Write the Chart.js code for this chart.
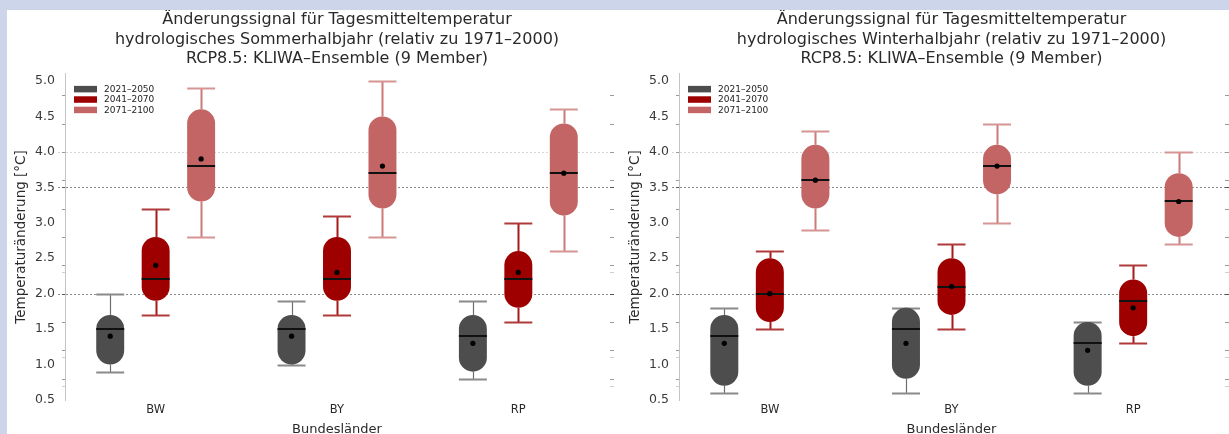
<!DOCTYPE html>
<html lang="de">
<head>
<meta charset="utf-8">
<title>Änderungssignal Tagesmitteltemperatur</title>
<script src="https://cdn.jsdelivr.net/npm/chart.js@4.4.1/dist/chart.umd.min.js"></script>
<style>
  html, body { margin: 0; padding: 0; width: 1229px; height: 434px; overflow: hidden; background: #fff; }
  #wrap { position: relative; width: 1229px; height: 434px; overflow: hidden; background: #fff; }
  .panel { position: absolute; top: 0; height: 444px; }
  #summer { left: 0; width: 614px; }
  #winter { left: 614px; width: 615px; }
  .frame { position: absolute; background: #cdd5ea; }
  #frameTop { left: 0; top: 0; width: 1229px; height: 10px; }
  #frameLeft { left: 0; top: 0; width: 7px; height: 434px; }
</style>
</head>
<body>
<div id="wrap">
  <canvas id="summer" class="panel" width="614" height="444"></canvas>
  <canvas id="winter" class="panel" width="615" height="444"></canvas>
  <div id="frameTop" class="frame"></div>
  <div id="frameLeft" class="frame"></div>
</div>
<script>
// Categories and periods
const categories = ['BW', 'BY', 'RP'];
const periods = ['2021–2050', '2041–2070', '2071–2100'];

// Axis values
const yTickValues = [0.5, 1.0, 1.5, 2.0, 2.5, 3.0, 3.5, 4.0, 4.5, 5.0];
const axisMarks = [0.8, 1.2, 1.6, 2.0, 2.4, 2.8, 3.2, 3.6, 4.0, 4.4, 4.8];
const faintMarks = [0.7, 1.1, 2.3];
const softGuides = [4.0];
const strongGuides = [2.0, 3.5];

// Sommerhalbjahr: rows = periods, columns = categories
const summerMin    = [[0.9, 1.0, 0.8], [1.7, 1.7, 1.6], [2.8, 2.8, 2.6]];
const summerQ1     = [[1.0, 1.0, 0.9], [1.9, 1.9, 1.8], [3.3, 3.2, 3.1]];
const summerMedian = [[1.5, 1.5, 1.4], [2.2, 2.2, 2.2], [3.8, 3.7, 3.7]];
const summerMean   = [[1.4, 1.4, 1.3], [2.4, 2.3, 2.3], [3.9, 3.8, 3.7]];
const summerQ3     = [[1.7, 1.7, 1.7], [2.8, 2.8, 2.6], [4.6, 4.5, 4.4]];
const summerMax    = [[2.0, 1.9, 1.9], [3.2, 3.1, 3.0], [4.9, 5.0, 4.6]];

// Winterhalbjahr: rows = periods, columns = categories
const winterMin    = [[0.6, 0.6, 0.6], [1.5, 1.5, 1.3], [2.9, 3.0, 2.7]];
const winterQ1     = [[0.7, 0.8, 0.7], [1.6, 1.7, 1.4], [3.2, 3.4, 2.8]];
const winterMedian = [[1.4, 1.5, 1.3], [2.0, 2.1, 1.9], [3.6, 3.8, 3.3]];
const winterMean   = [[1.3, 1.3, 1.2], [2.0, 2.1, 1.8], [3.6, 3.8, 3.3]];
const winterQ3     = [[1.7, 1.8, 1.6], [2.5, 2.5, 2.2], [4.1, 4.1, 3.7]];
const winterMax    = [[1.8, 1.8, 1.6], [2.6, 2.7, 2.4], [4.3, 4.4, 4.0]];

const summerTitle = ['Änderungssignal für Tagesmitteltemperatur',
                     'hydrologisches Sommerhalbjahr (relativ zu 1971–2000)',
                     'RCP8.5: KLIWA–Ensemble (9 Member)'];
const winterTitle = ['Änderungssignal für Tagesmitteltemperatur',
                     'hydrologisches Winterhalbjahr (relativ zu 1971–2000)',
                     'RCP8.5: KLIWA–Ensemble (9 Member)'];

// Styling per period
const boxColors     = ['#4d4d4d', '#9e0000', '#c46565'];
const whiskerColors = ['#6e6e6e', '#a51a1a', '#cc7a7a'];
const capColors     = ['#8a8a8a', '#b03a3a', '#d69494'];
const whiskerWidths = [1.2, 2, 2];

Chart.defaults.font.family = "'DejaVu Sans', 'Liberation Sans', sans-serif";
Chart.defaults.color = '#2a2a2a';

// Whiskers, medians, means, guide lines, axis marks and legend
const boxPlotPlugin = {
  id: 'boxPlot',
  beforeDatasetsDraw(chart, args, opts) {
    const { ctx, chartArea: a, scales: { y } } = chart;
    const py = v => Math.round(y.getPixelForValue(v)) + 0.5;
    ctx.save();

    // horizontal guides
    ctx.lineWidth = 1;
    ctx.setLineDash([2, 2]);
    softGuides.forEach(v => {
      ctx.strokeStyle = '#d6d6d6';
      ctx.beginPath(); ctx.moveTo(a.left - 7, py(v)); ctx.lineTo(a.right + 5, py(v)); ctx.stroke();
    });
    strongGuides.forEach(v => {
      ctx.strokeStyle = '#8c8c8c';
      ctx.beginPath(); ctx.moveTo(a.left - 7, py(v)); ctx.lineTo(a.right + 5, py(v)); ctx.stroke();
    });
    ctx.setLineDash([]);

    // small axis marks on both sides
    const mark = (v, color) => {
      ctx.strokeStyle = color;
      ctx.beginPath(); ctx.moveTo(a.left - 3, py(v)); ctx.lineTo(a.left, py(v)); ctx.stroke();
      ctx.beginPath(); ctx.moveTo(a.right + 1, py(v)); ctx.lineTo(a.right + 5, py(v)); ctx.stroke();
    };
    axisMarks.forEach(v => mark(v, '#9a9a9a'));
    faintMarks.forEach(v => mark(v, '#cfcfcf'));
    strongGuides.forEach(v => mark(v, '#555'));

    // whiskers
    chart.data.datasets.forEach((ds, di) => {
      const meta = chart.getDatasetMeta(di);
      meta.data.forEach((bar, ci) => {
        const x = Math.round(bar.x) + 0.5;
        const half = bar.width / 2;
        const yMin = py(opts.min[di][ci]), yMax = py(opts.max[di][ci]);
        const yQ1 = y.getPixelForValue(opts.q1[di][ci]);
        const yQ3 = y.getPixelForValue(opts.q3[di][ci]);
        ctx.strokeStyle = whiskerColors[di];
        ctx.lineWidth = whiskerWidths[di];
        ctx.beginPath();
        ctx.moveTo(x, yMax); ctx.lineTo(x, yQ3);
        ctx.moveTo(x, yQ1); ctx.lineTo(x, yMin);
        ctx.stroke();
        ctx.strokeStyle = capColors[di];
        ctx.lineWidth = 2;
        ctx.beginPath();
        ctx.moveTo(bar.x - half, yMax); ctx.lineTo(bar.x + half, yMax);
        ctx.moveTo(bar.x - half, yMin); ctx.lineTo(bar.x + half, yMin);
        ctx.stroke();
      });
    });
    ctx.restore();
  },
  afterDatasetsDraw(chart, args, opts) {
    const { ctx, chartArea: a, scales: { y } } = chart;
    ctx.save();
    chart.data.datasets.forEach((ds, di) => {
      const meta = chart.getDatasetMeta(di);
      meta.data.forEach((bar, ci) => {
        const half = bar.width / 2;
        const yMed = Math.round(y.getPixelForValue(opts.median[di][ci]));
        ctx.strokeStyle = '#111';
        ctx.lineWidth = 2;
        ctx.beginPath();
        ctx.moveTo(bar.x - half, yMed); ctx.lineTo(bar.x + half, yMed);
        ctx.stroke();
        const yMean = y.getPixelForValue(opts.mean[di][ci]);
        ctx.fillStyle = '#000';
        ctx.beginPath();
        ctx.arc(bar.x, yMean, 2.6, 0, Math.PI * 2);
        ctx.fill();
      });
    });

    // legend in the upper left corner of the plot area
    ctx.font = "9px 'DejaVu Sans', sans-serif";
    ctx.textBaseline = 'middle';
    ctx.textAlign = 'left';
    chart.data.datasets.forEach((ds, di) => {
      const top = a.top + 12 + di * 10.4;
      ctx.fillStyle = ds.backgroundColor;
      ctx.fillRect(a.left + 9, top, 23, 6.5);
      ctx.fillStyle = '#222';
      ctx.fillText(ds.label, a.left + 39, top + 3.5);
    });
    ctx.restore();
  }
};

function makePanel(canvasId, titleLines, stats) {
  const datasets = periods.map((label, p) => ({
    label,
    data: categories.map((c, i) => [stats.q1[p][i], stats.q3[p][i]]),
    backgroundColor: boxColors[p],
    borderWidth: 0,
    borderSkipped: false,
    borderRadius: 100,
    categoryPercentage: 0.752,
    barPercentage: 0.615
  }));

  return new Chart(document.getElementById(canvasId), {
    type: 'bar',
    data: { labels: categories, datasets },
    plugins: [boxPlotPlugin],
    options: {
      responsive: false,
      animation: false,
      devicePixelRatio: 1,
      events: [],
      layout: { padding: { left: 0, right: 5, top: 0, bottom: 0 } },
      plugins: {
        legend: { display: false },
        tooltip: { enabled: false },
        title: {
          display: true,
          fullSize: false,
          text: titleLines,
          color: '#2a2a2a',
          font: { size: 16, weight: 'normal', lineHeight: 1.21 },
          padding: { top: 10.5, bottom: 5.3 }
        },
        boxPlot: stats
      },
      scales: {
        x: {
          offset: true,
          grid: { display: false, drawTicks: false },
          border: { display: false },
          ticks: { font: { size: 11.5 }, color: '#2a2a2a', padding: 3 },
          title: {
            display: true, text: 'Bundesländer', color: '#2a2a2a',
            font: { size: 13 }, padding: { top: 0, bottom: 7 }
          },
          afterFit: s => { s.height = 44; }
        },
        y: {
          min: 0.5,
          max: 5.1,
          afterBuildTicks: s => { s.ticks = yTickValues.map(v => ({ value: v })); },
          grid: { display: false, drawTicks: false },
          border: { display: true, color: '#c4c4c4', width: 1 },
          ticks: { callback: v => Number(v).toFixed(1), font: { size: 12.5 }, color: '#3a3a3a', padding: 10 },
          title: {
            display: true, text: 'Temperaturänderung [°C]', color: '#2a2a2a',
            font: { size: 13.5 }, padding: { top: 13, bottom: 0 }
          },
          afterFit: s => { s.width = 65; }
        }
      }
    }
  });
}

makePanel('summer', summerTitle, {
  min: summerMin, q1: summerQ1, median: summerMedian,
  mean: summerMean, q3: summerQ3, max: summerMax
});
makePanel('winter', winterTitle, {
  min: winterMin, q1: winterQ1, median: winterMedian,
  mean: winterMean, q3: winterQ3, max: winterMax
});
</script>
</body>
</html>
